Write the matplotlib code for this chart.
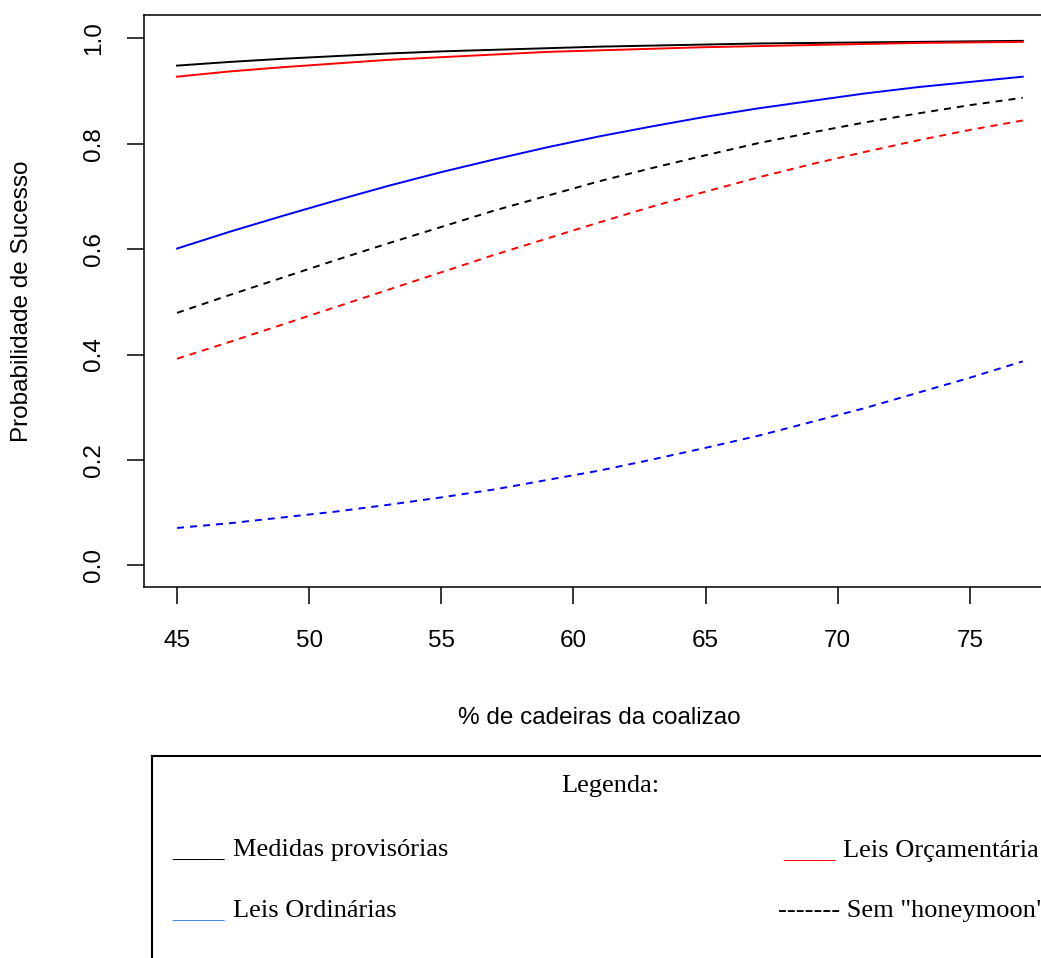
import matplotlib
matplotlib.use("Agg")
import matplotlib.pyplot as plt
from matplotlib.patches import Rectangle

# % de cadeiras da coalizao
coalizao = [45, 47, 49, 51, 53, 55, 57, 59, 61, 63, 65, 67, 69, 71, 73, 75, 77]

# com honeymoon (linhas cheias)
mp_hm = [0.948, 0.955, 0.961, 0.966, 0.971, 0.975, 0.978, 0.981, 0.984,
         0.986, 0.988, 0.990, 0.991, 0.992, 0.993, 0.994, 0.995]
orc_hm = [0.927, 0.937, 0.945, 0.952, 0.959, 0.964, 0.969, 0.974, 0.977,
          0.980, 0.983, 0.985, 0.987, 0.989, 0.991, 0.992, 0.993]
ord_hm = [0.601, 0.633, 0.663, 0.692, 0.720, 0.746, 0.770, 0.793, 0.814,
          0.833, 0.851, 0.867, 0.881, 0.895, 0.907, 0.917, 0.927]

# sem honeymoon (linhas tracejadas)
mp_sem = [0.479, 0.513, 0.546, 0.579, 0.611, 0.642, 0.673, 0.701, 0.729,
          0.754, 0.778, 0.801, 0.821, 0.840, 0.857, 0.873, 0.887]
orc_sem = [0.392, 0.424, 0.457, 0.490, 0.523, 0.556, 0.589, 0.620, 0.651,
           0.681, 0.709, 0.736, 0.761, 0.784, 0.806, 0.826, 0.844]
ord_sem = [0.071, 0.080, 0.091, 0.102, 0.115, 0.129, 0.144, 0.162, 0.180,
           0.201, 0.223, 0.246, 0.272, 0.298, 0.327, 0.356, 0.387]

xticks = [45, 50, 55, 60, 65, 70, 75]
yticks = [0.0, 0.2, 0.4, 0.6, 0.8, 1.0]

W, H = 1041, 958
fig = plt.figure(figsize=(W / 100, H / 100), dpi=100)
ax = fig.add_axes([144 / W, 1 - 587 / H, (W - 144) / W, (587 - 15) / H])

sans = "Liberation Sans"
serif = "Liberation Serif"

dash = (0, (3.6, 3.1))
ax.plot(coalizao, mp_hm, color="black", lw=1.4)
ax.plot(coalizao, orc_hm, color="red", lw=1.4)
ax.plot(coalizao, ord_hm, color="blue", lw=1.4)
ax.plot(coalizao, mp_sem, color="black", lw=1.4, linestyle=dash)
ax.plot(coalizao, orc_sem, color="red", lw=1.4, linestyle=dash)
ax.plot(coalizao, ord_sem, color="blue", lw=1.4, linestyle=dash)

ax.set_xlim(43.75, 77.69)
ax.set_ylim(-0.041, 1.044)
ax.spines["right"].set_visible(False)
for s in ["left", "bottom", "top"]:
    ax.spines[s].set_linewidth(1.1)

ax.set_xticks(xticks)
ax.set_xticklabels([str(t) for t in xticks], fontsize=17.5, family=sans)
ax.set_yticks(yticks)
ax.set_yticklabels(["%.1f" % t for t in yticks], fontsize=17.5, family=sans,
                   rotation=90, va="center")
ax.tick_params(axis="both", length=12, width=1.1, direction="out")
ax.tick_params(axis="x", pad=19)
ax.tick_params(axis="y", pad=16)

ax.set_xlabel("% de cadeiras da coalizao", fontsize=17.5, family=sans)
ax.xaxis.set_label_coords(0.508, -0.229)
ax.xaxis.label.set_va("center")
ax.set_ylabel("Probabilidade de Sucesso", fontsize=17.5, family=sans)
ax.yaxis.set_label_coords(-0.136, 0.5)
ax.yaxis.label.set_va("center")

# caixa de legenda (texto, como no original)
fig.patches.append(Rectangle((152 / W, -0.1), 1.0, 1 - 756 / H + 0.1,
                             transform=fig.transFigure, fill=False,
                             edgecolor="black", lw=1.5))


def ftext(x, y, s, color="black"):
    fig.text(x / W, 1 - y / H, s, color=color, fontsize=19, family=serif,
             va="baseline", ha="left")


fig.text(610 / W, 1 - 792 / H, "Legenda:", fontsize=19, family=serif,
         va="baseline", ha="center")
ftext(172, 856, "____", "black")
ftext(233, 856, "Medidas provisórias")
ftext(172, 917, "____", "#4a86e8")
ftext(233, 917, "Leis Ordinárias")
ftext(783, 857, "____", "red")
ftext(843, 857, "Leis Orçamentária")
ftext(778, 917, "------- Sem \"honeymoon\"")

fig.savefig("out.png", dpi=100)
